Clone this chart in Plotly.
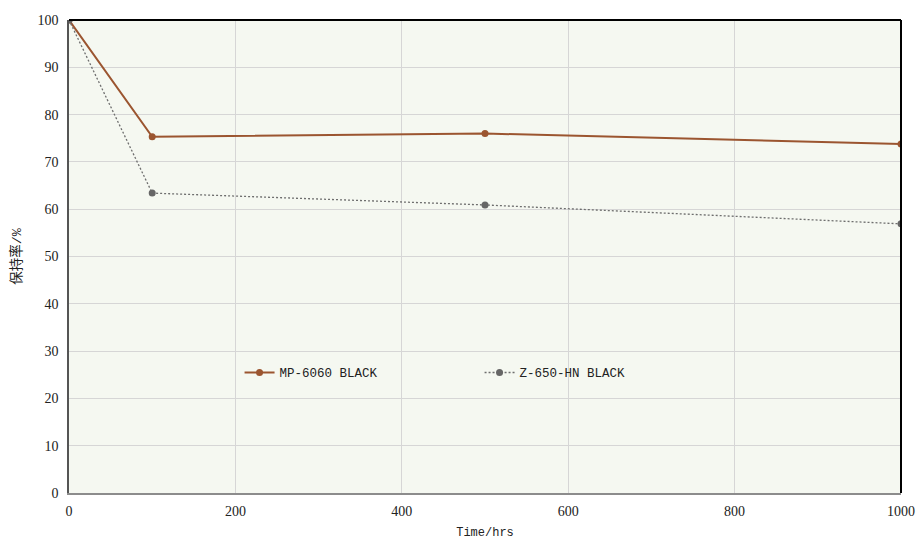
import plotly.graph_objects as go

hours = [0, 100, 500, 1000]
mp6060 = [100, 75.3, 76.0, 73.8]
z650 = [100, 63.4, 60.9, 56.9]
x_ticks = [0, 200, 400, 600, 800, 1000]
y_ticks = [0, 10, 20, 30, 40, 50, 60, 70, 80, 90, 100]

mono = "Liberation Mono, Noto Sans CJK SC"

fig = go.Figure()
fig.add_trace(go.Scatter(
    x=hours, y=mp6060, name="MP-6060 BLACK", mode="lines+markers",
    line=dict(color="#9B5530", width=2),
    marker=dict(color="#9B5530", size=7),
))
fig.add_trace(go.Scatter(
    x=hours, y=z650, name="Z-650-HN BLACK", mode="lines+markers",
    line=dict(color="#6E6E6E", width=1.3, dash="2px,2px"),
    marker=dict(color="#666666", size=7),
))

fig.update_layout(
    width=916, height=539,
    margin=dict(l=61, r=23, t=12, b=54),
    paper_bgcolor="white",
    plot_bgcolor="#F5F8F1",
    showlegend=True,
    legend=dict(
        orientation="h", x=0.205, y=0.254, xanchor="left", yanchor="middle",
        bgcolor="rgba(0,0,0,0)",
        font=dict(family=mono, size=12.5, color="#222"),
        entrywidth=195, entrywidthmode="pixels",
        itemclick=False,
    ),
    xaxis=dict(
        range=[0, 1000], tickvals=x_ticks, ticks="",
        showgrid=True, gridcolor="#D6D6D6", gridwidth=1,
        showline=True, linecolor="#8C8C8C", linewidth=2,
        zeroline=False, automargin=False,
        tickfont=dict(family="Liberation Serif", size=14, color="#222"),
        ticklabelstandoff=4,
        title=dict(text="Time/hrs", font=dict(family=mono, size=12, color="#222"), standoff=10),
    ),
    yaxis=dict(
        range=[0, 100], tickvals=y_ticks, ticks="",
        showgrid=True, gridcolor="#D6D6D6", gridwidth=1,
        showline=True, linecolor="#555555", linewidth=1.5,
        zeroline=False, automargin=False,
        tickfont=dict(family="Liberation Serif", size=14, color="#222"),
        ticklabelstandoff=6,
        title=dict(text="保持率/%", font=dict(family=mono, size=13.5, color="#222"), standoff=13),
    ),
    shapes=[
        dict(type="line", xref="paper", yref="paper", x0=0, x1=1, y0=1, y1=1,
             line=dict(color="black", width=2)),
        dict(type="line", xref="paper", yref="paper", x0=1, x1=1, y0=0, y1=1,
             line=dict(color="black", width=2)),
    ],
)

fig.write_html("out.html")
